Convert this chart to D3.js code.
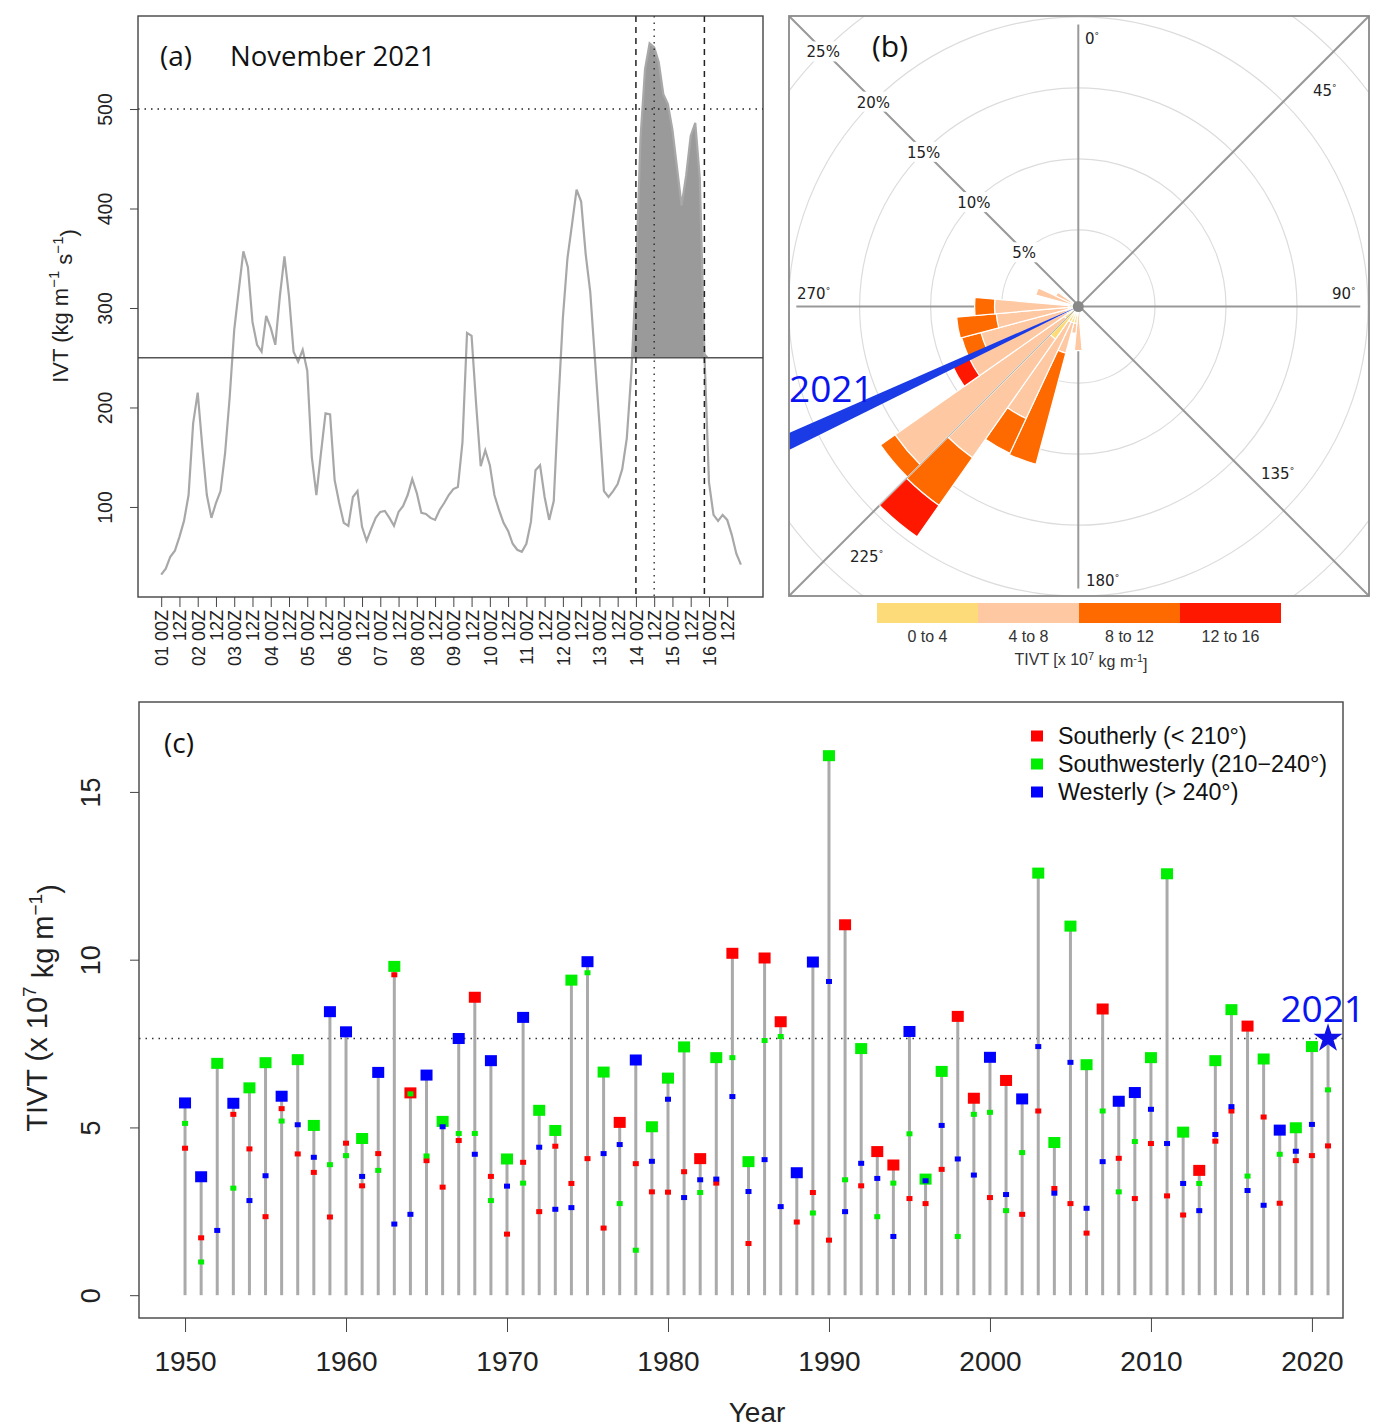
<!DOCTYPE html>
<html>
<head>
<meta charset="utf-8">
<script src="https://cdn.jsdelivr.net/npm/d3@7"></script>
<style>
  body { margin: 0; background: #fff; }
  text { font-family: "Liberation Sans", Arial, sans-serif; }
</style>
</head>
<body>
<svg id="chart" width="1378" height="1428"></svg>
<script>
// ---------- panel (a): IVT, 3-hourly, 01 00Z - 16 21Z November 2021 ----------
let ivt = [
  32, 38, 50, 56, 70, 86, 112, 184, 215, 161,
  112, 89, 104, 116, 154, 210, 278, 318, 357, 341,
  286, 263, 256, 292, 280, 263, 312, 352, 312, 256,
  246, 258, 237, 150, 112, 154, 194, 193, 127, 104,
  84, 81, 110, 116, 80, 66, 78, 89, 95, 96,
  89, 81, 95, 101, 112, 128, 114, 94, 93, 89,
  87, 97, 104, 112, 118, 120, 165, 275, 272, 203,
  141, 157, 142, 112, 97, 84, 76, 63, 57, 55,
  63, 85, 137, 142, 110, 87, 106, 203, 290, 350,
  384, 419, 407, 354, 316, 250, 184, 116, 110, 116,
  123, 138, 169, 235, 330, 470, 540, 566, 562, 547,
  515, 505, 479, 441, 403, 433, 473, 486, 430, 255,
  125, 92, 86, 92, 87, 72, 53, 42
]
let days = ['01','02','03','04','05','06','07','08','09','10','11','12','13','14','15','16']
let ivtThreshold = 250
let ivtHigh = 500
let yTicksA = [100, 200, 300, 400, 500]
// event markers, in 12-hour steps from 01 00Z
let eventStart = 26
let eventMid = 27
let eventEnd = 29.75

// ---------- panel (b): TIVT rose ----------
let roseDirs   = [180, 190, 200, 210, 220, 230, 240, 250, 260, 270, 290, 300]
let freq0to4   = [0, 0.8, 0.8, 0.8, 2.4, 0.8, 0.5, 0.5, 0.3, 0.3, 0, 0]
let freq4to8   = [2.7, 0.7, 2.2, 7.5, 10.2, 14.55, 7.6, 6.2, 5.1, 5.2, 2.7, 1.35]
let freq8to12  = [0, 0, 8.1, 2.7, 4.1, 1.25, 0, 1.4, 2.8, 1.4, 0, 0]
let freq12to16 = [0, 0, 0, 0, 2.7, 0, 1.3, 0, 0, 0, 0, 0]
let roseClasses = ['0 to 4', '4 to 8', '8 to 12', '12 to 16']
let roseColors = ['#fedb79', '#fdc8a2', '#ff6a00', '#ff1800']
let ringPcts = [5, 10, 15, 20, 25]
let compassLabels = ['0', '45', '90', '135', '180', '225', '270']
let dir2021 = 245

// ---------- panel (c): annual max TIVT by direction ----------
let years = d3.range(1950, 2022)
let southerly = [
  4.38, 1.71, null, 5.39, 4.36, 2.34, 5.56, 4.21, 3.66, 2.33,
  4.53, 3.26, 4.22, 9.55, 6.03, 4.01, 3.22, 4.61, 8.88, 3.54,
  1.82, 3.96, 2.49, 4.44, 3.33, 4.07, 2.00, 5.15, 3.92, 3.08,
  3.07, 3.68, 4.07, 3.34, 10.19, 1.54, 10.05, 8.15, 2.18, 3.06,
  1.64, 11.04, 3.26, 4.28, 3.88, 2.88, 2.73, 3.75, 8.31, 5.87,
  2.91, 6.40, 2.41, 5.49, 3.18, 2.73, 1.85, 8.53, 4.08, 2.88,
  4.52, 2.96, 2.39, 3.72, 4.59, 5.49, 8.02, 5.31, 2.74, 4.01,
  4.16, 4.45
]
let southwesterly = [
  5.12, 0.99, 6.91, 3.19, 6.18, 6.93, 5.19, 7.02, 5.06, 3.89,
  4.16, 4.67, 3.72, 9.80, 6.00, 4.15, 5.18, 4.82, 4.82, 2.82,
  4.06, 3.34, 5.51, 4.91, 9.39, 9.61, 6.65, 2.73, 1.34, 5.02,
  6.47, 7.40, 3.06, 7.08, 7.08, 3.98, 7.59, 7.71, null, 2.45,
  16.08, 3.44, 7.35, 2.34, 3.34, 4.81, 3.46, 6.67, 1.75, 5.39,
  5.45, 2.52, 4.25, 12.58, 4.55, 11.00, 6.87, 5.49, 3.08, 4.58,
  7.08, 12.56, 4.86, 3.33, 6.99, 8.51, 3.55, 7.04, 4.20, 4.99,
  7.41, 6.12
]
let westerly = [
  5.73, 3.53, 1.93, 5.72, 2.82, 3.56, 5.93, 5.08, 4.11, 8.45,
  7.85, 3.54, 6.64, 2.12, 2.41, 6.56, 5.02, 7.65, 4.20, 6.99,
  3.25, 8.28, 4.41, 2.56, 2.61, 9.94, 4.22, 4.49, 7.01, 3.99,
  5.84, 2.91, 3.44, 3.46, 5.92, 3.09, 4.04, 2.64, 3.65, 9.93,
  9.35, 2.49, 3.93, 3.48, 1.75, 7.86, 3.41, 5.06, 4.06, 3.58,
  7.09, 3.00, 5.85, 7.41, 3.04, 6.94, 2.59, 3.98, 5.78, 6.04,
  5.54, 4.52, 3.33, 2.52, 4.79, 5.62, 3.12, 2.68, 4.92, 4.29,
  5.09, 7.65
]
let dirNames = ['Southerly (< 210\u00B0)', 'Southwesterly (210\u2212240\u00B0)', 'Westerly (> 240\u00B0)']
let dirColors = ['#ff0000', '#00ee00', '#0000ff']
let yTicksC = [0, 5, 10, 15]
let xTicksC = [1950, 1960, 1970, 1980, 1990, 2000, 2010, 2020]

let svg = d3.select('#chart')
let defs = svg.append('defs')
defs.append('clipPath').attr('id', 'clipA').append('rect')
    .attr('x', 138).attr('y', 16).attr('width', 625).attr('height', 581)
defs.append('clipPath').attr('id', 'clipB').append('rect')
    .attr('x', 789).attr('y', 16).attr('width', 580).attr('height', 580)

// ================= panel (a) =================
let xA = d3.scaleLinear().domain([-1.27, 32.96]).range([138, 763])
let yA = d3.scaleLinear().domain([9.5, 593.5]).range([597, 16])
let gA = svg.append('g')
let plotA = gA.append('g').attr('clip-path', 'url(#clipA)')

let shade = d3.area()
    .defined((d, i) => i >= 103 && i <= 120)
    .x((d, i) => xA(i / 4))
    .y0(yA(ivtThreshold))
    .y1(d => yA(Math.max(d, ivtThreshold)))
plotA.append('path').datum(ivt).attr('d', shade).attr('fill', '#9a9a9a')

plotA.append('path').datum(ivt)
    .attr('d', d3.line().x((d, i) => xA(i / 4)).y(d => yA(d)))
    .attr('fill', 'none').attr('stroke', '#a8a8a8').attr('stroke-width', 2.2)

plotA.append('line').attr('x1', 138).attr('x2', 763)
    .attr('y1', yA(ivtThreshold)).attr('y2', yA(ivtThreshold))
    .attr('stroke', '#555').attr('stroke-width', 1.6)
plotA.append('line').attr('x1', 138).attr('x2', 763)
    .attr('y1', yA(ivtHigh)).attr('y2', yA(ivtHigh))
    .attr('stroke', '#222').attr('stroke-width', 1.3).attr('stroke-dasharray', '1.5,5')

;[eventStart, eventEnd].forEach(t => {
  plotA.append('line').attr('x1', xA(t)).attr('x2', xA(t)).attr('y1', 16).attr('y2', 597)
      .attr('stroke', '#222').attr('stroke-width', 1.5).attr('stroke-dasharray', '6,5')
})
plotA.append('line').attr('x1', xA(eventMid)).attr('x2', xA(eventMid)).attr('y1', 16).attr('y2', 597)
    .attr('stroke', '#222').attr('stroke-width', 1.3).attr('stroke-dasharray', '1.5,5')

gA.append('rect').attr('x', 138).attr('y', 16).attr('width', 625).attr('height', 581)
    .attr('fill', 'none').attr('stroke', '#444').attr('stroke-width', 1.4)

let axLeftA = gA.append('g').attr('transform', 'translate(138,0)')
    .call(d3.axisLeft(yA).tickValues(yTicksA).tickSize(8).tickSizeOuter(0))
axLeftA.select('.domain').remove()
axLeftA.selectAll('line').attr('stroke', '#444')
axLeftA.selectAll('text')
    .attr('x', 0).attr('dy', null).attr('text-anchor', 'middle')
    .attr('transform', 'translate(-26,0) rotate(-90)')
    .style('font-size', '19.5px').attr('fill', '#222')

let tickLabelsA = []
days.forEach(d => { tickLabelsA.push(d + ' 00Z'); tickLabelsA.push('12Z') })
let axBottomA = gA.append('g').attr('transform', 'translate(0,597)')
    .call(d3.axisBottom(xA).tickValues(d3.range(tickLabelsA.length))
        .tickFormat(i => tickLabelsA[i]).tickSize(10).tickSizeOuter(0))
axBottomA.select('.domain').remove()
axBottomA.selectAll('line').attr('stroke', '#444')
axBottomA.selectAll('text')
    .attr('x', 0).attr('y', 0).attr('dy', '0.36em').attr('text-anchor', 'end')
    .attr('transform', 'translate(0,13) rotate(-90)')
    .style('font-size', '18px').attr('fill', '#222')

let titleA = gA.append('text').attr('transform', 'translate(68,306) rotate(-90)')
    .attr('text-anchor', 'middle').style('font-size', '22px').attr('fill', '#222')
titleA.append('tspan').text('IVT (kg m')
titleA.append('tspan').text('\u22121').attr('dy', '-0.6em').style('font-size', '15px')
titleA.append('tspan').text(' s').attr('dy', '0.6em')
titleA.append('tspan').text('\u22121').attr('dy', '-0.6em').style('font-size', '15px')
titleA.append('tspan').text(')').attr('dy', '0.6em')

gA.append('text').attr('x', 160).attr('y', 66).text('(a)')
    .style('font-family', '"Open Sans", sans-serif').style('font-size', '28px').attr('fill', '#111')
gA.append('text').attr('x', 230).attr('y', 66).text('November 2021')
    .style('font-family', '"Open Sans", sans-serif').style('font-size', '27.5px').attr('fill', '#111')

// ================= panel (b) =================
let cx = 1078.3, cy = 306.5
let rB = d3.scaleLinear().domain([0, 25]).range([5.7, 360.7])
let rad = deg => deg * Math.PI / 180
let gB = svg.append('g')
let plotB = gB.append('g').attr('clip-path', 'url(#clipB)')

plotB.selectAll('circle.ring').data(ringPcts).enter().append('circle')
    .attr('cx', cx).attr('cy', cy).attr('r', d => rB(d))
    .attr('fill', 'none').attr('stroke', '#dcdcdc').attr('stroke-width', 1.2)

// axes of the rose
let spoke = 282
plotB.append('line').attr('x1', cx).attr('x2', cx).attr('y1', cy - spoke).attr('y2', cy + spoke)
    .attr('stroke', '#999').attr('stroke-width', 2)
plotB.append('line').attr('x1', cx - spoke).attr('x2', cx + spoke).attr('y1', cy).attr('y2', cy)
    .attr('stroke', '#999').attr('stroke-width', 2)
plotB.append('line').attr('x1', 789).attr('y1', 596).attr('x2', 1369).attr('y2', 16)
    .attr('stroke', '#999').attr('stroke-width', 2)
plotB.append('line').attr('x1', 789).attr('y1', 16).attr('x2', 1369).attr('y2', 596)
    .attr('stroke', '#999').attr('stroke-width', 2)

// stacked petals
let roseFreqs = [freq0to4, freq4to8, freq8to12, freq12to16]
let petals = []
roseDirs.forEach((dir, i) => {
  let cum = 0
  roseFreqs.forEach((arr, c) => {
    if (arr[i] > 0) {
      petals.push({ dir: dir, inner: cum, outer: cum + arr[i], cls: c })
      cum += arr[i]
    }
  })
})
let petalArc = d3.arc()
    .innerRadius(d => d.inner === 0 ? 0 : rB(d.inner))
    .outerRadius(d => rB(d.outer))
    .startAngle(d => rad(d.dir - 5))
    .endAngle(d => rad(d.dir + 5))
plotB.selectAll('path.petal').data(petals).enter().append('path')
    .attr('transform', `translate(${cx},${cy})`)
    .attr('d', petalArc)
    .attr('fill', d => roseColors[d.cls])
    .attr('stroke', '#fff').attr('stroke-width', 1.2)

// faint grid line showing through the gap at 225
plotB.append('line').attr('x1', cx).attr('y1', cy)
    .attr('x2', cx - Math.sin(rad(45)) * rB(19.4)).attr('y2', cy + Math.cos(rad(45)) * rB(19.4))
    .attr('stroke', '#a0a8a0').attr('stroke-width', 1)

// 2021 event direction
plotB.append('path').attr('transform', `translate(${cx},${cy})`)
    .attr('d', d3.arc().innerRadius(0).outerRadius(600)
        .startAngle(rad(dir2021 - 1.4)).endAngle(rad(dir2021 + 1.4))())
    .attr('fill', '#1a3be6')

plotB.append('circle').attr('cx', cx).attr('cy', cy).attr('r', 5.5).attr('fill', '#888')

// ring labels on the NW diagonal
ringPcts.forEach(p => {
  let px = cx - Math.SQRT1_2 * rB(p)
  let py = cy - Math.SQRT1_2 * rB(p)
  plotB.append('rect').attr('x', px - 21).attr('y', py - 10).attr('width', 42).attr('height', 20)
      .attr('fill', '#fff')
  plotB.append('text').attr('x', px).attr('y', py + 6).attr('text-anchor', 'middle')
      .text(p + '%').style('font-family', '"DejaVu Sans", Verdana, sans-serif')
      .style('font-size', '15px').attr('fill', '#222')
})

// compass labels
let compassPos = [[1085, 44], [1313, 96], [1332, 299], [1261, 479], [1086, 586], [850, 562], [797, 299]]
compassLabels.forEach((lab, i) => {
  let t = gB.append('text').attr('x', compassPos[i][0]).attr('y', compassPos[i][1])
      .style('font-family', '"DejaVu Sans", Verdana, sans-serif').style('font-size', '15px').attr('fill', '#222')
  t.append('tspan').text(lab)
  t.append('tspan').text('\u00B0').attr('dy', '-0.55em').style('font-size', '9px')
})

gB.append('rect').attr('x', 789).attr('y', 16).attr('width', 580).attr('height', 580)
    .attr('fill', 'none').attr('stroke', '#8a8a8a').attr('stroke-width', 1.8)

gB.append('text').attr('x', 872).attr('y', 57).text('(b)')
    .style('font-family', '"Open Sans", sans-serif').style('font-size', '30px').attr('fill', '#111')
gB.append('text').attr('x', 789).attr('y', 402).text('2021')
    .style('font-family', '"Open Sans", sans-serif').style('font-size', '37px').attr('fill', '#0a14f0')

// colour key
let keyX = d3.scaleBand().domain(roseClasses).range([877, 1281])
gB.selectAll('rect.key').data(roseClasses).enter().append('rect')
    .attr('x', d => keyX(d)).attr('y', 603).attr('width', keyX.bandwidth()).attr('height', 20)
    .attr('fill', (d, i) => roseColors[i])
gB.selectAll('text.key').data(roseClasses).enter().append('text')
    .attr('x', d => keyX(d) + keyX.bandwidth() / 2).attr('y', 642).attr('text-anchor', 'middle')
    .text(d => d).style('font-size', '16px').attr('fill', '#333')
let keyTitle = gB.append('text').attr('x', 1081).attr('y', 665).attr('text-anchor', 'middle')
    .style('font-size', '16px').attr('fill', '#333')
keyTitle.append('tspan').text('TIVT [x 10')
keyTitle.append('tspan').text('7').attr('dy', '-0.45em').style('font-size', '11px')
keyTitle.append('tspan').text(' kg m').attr('dy', '0.45em')
keyTitle.append('tspan').text('-1').attr('dy', '-0.45em').style('font-size', '11px')
keyTitle.append('tspan').text(']').attr('dy', '0.45em')

// ================= panel (c) =================
let xC = d3.scaleLinear().domain([1947.14, 2021.93]).range([139, 1343])
let yC = d3.scaleLinear().domain([-0.68, 17.68]).range([1318, 702])
let gC = svg.append('g')

let rows = years.map((yr, i) => {
  let vals = [southerly[i], southwesterly[i], westerly[i]]
  let best = 0
  vals.forEach((v, k) => { if (v != null && (vals[best] == null || v > vals[best])) best = k })
  return { year: yr, vals: vals, best: best, max: vals[best] }
})
let lastYear = years[years.length - 1]
let value2021 = rows[rows.length - 1].max

gC.append('line').attr('x1', 139).attr('x2', 1343)
    .attr('y1', yC(value2021)).attr('y2', yC(value2021))
    .attr('stroke', '#333').attr('stroke-width', 1.3).attr('stroke-dasharray', '1.5,5')

gC.selectAll('line.stem').data(rows).enter().append('line')
    .attr('x1', d => xC(d.year)).attr('x2', d => xC(d.year))
    .attr('y1', yC(0)).attr('y2', d => yC(d.max))
    .attr('stroke', '#aaa').attr('stroke-width', 3)

gC.selectAll('rect.big').data(rows.filter(d => d.year !== lastYear)).enter().append('rect')
    .attr('x', d => xC(d.year) - 6).attr('y', d => yC(d.max) - 5.5)
    .attr('width', 12).attr('height', 11)
    .attr('fill', d => dirColors[d.best])

let smalls = []
rows.forEach(d => {
  d.vals.forEach((v, k) => {
    if (v != null && k !== d.best) smalls.push({ year: d.year, v: v, k: k })
  })
})
gC.selectAll('rect.small').data(smalls).enter().append('rect')
    .attr('x', d => xC(d.year) - 3).attr('y', d => yC(d.v) - 2.5)
    .attr('width', 6).attr('height', 5)
    .attr('fill', d => dirColors[d.k])

gC.append('path')
    .attr('transform', `translate(${xC(lastYear)},${yC(value2021)})`)
    .attr('d', d3.symbol().type(d3.symbolStar).size(260)())
    .attr('fill', '#1010e8')
gC.append('text').attr('x', 1365).attr('y', 1022).attr('text-anchor', 'end').text('2021')
    .style('font-family', '"Open Sans", sans-serif').style('font-size', '37px').attr('fill', '#0a14f0')

gC.append('rect').attr('x', 139).attr('y', 702).attr('width', 1204).attr('height', 616)
    .attr('fill', 'none').attr('stroke', '#444').attr('stroke-width', 1.4)

let axLeftC = gC.append('g').attr('transform', 'translate(139,0)')
    .call(d3.axisLeft(yC).tickValues(yTicksC).tickSize(9).tickSizeOuter(0))
axLeftC.select('.domain').remove()
axLeftC.selectAll('line').attr('stroke', '#444')
axLeftC.selectAll('text')
    .attr('x', 0).attr('dy', null).attr('text-anchor', 'middle')
    .attr('transform', 'translate(-39,0) rotate(-90)')
    .style('font-size', '27px').attr('fill', '#222')

let axBottomC = gC.append('g').attr('transform', 'translate(0,1318)')
    .call(d3.axisBottom(xC).tickValues(xTicksC)
        .tickFormat(d3.format('d')).tickSize(14).tickSizeOuter(0))
axBottomC.select('.domain').remove()
axBottomC.selectAll('line').attr('stroke', '#444')
axBottomC.selectAll('text').attr('y', 53).attr('dy', null)
    .style('font-size', '28px').attr('fill', '#222')

gC.append('text').attr('x', 757).attr('y', 1422).attr('text-anchor', 'middle').text('Year')
    .style('font-size', '28px').attr('fill', '#222')

let titleC = gC.append('text').attr('transform', 'translate(47,1008) rotate(-90)')
    .attr('text-anchor', 'middle').style('font-size', '29px').attr('fill', '#222')
titleC.append('tspan').text('TIVT (x 10')
titleC.append('tspan').text('7').attr('dy', '-0.6em').style('font-size', '19px')
titleC.append('tspan').text(' kg m').attr('dy', '0.6em')
titleC.append('tspan').text('\u22121').attr('dy', '-0.6em').style('font-size', '19px')
titleC.append('tspan').text(')').attr('dy', '0.6em')

gC.append('text').attr('x', 164).attr('y', 753).text('(c)')
    .style('font-family', '"Open Sans", sans-serif').style('font-size', '28px').attr('fill', '#111')

// legend
dirNames.forEach((name, i) => {
  let ly = 736 + i * 28
  gC.append('rect').attr('x', 1031).attr('y', ly - 5.5).attr('width', 12).attr('height', 11)
      .attr('fill', dirColors[i])
  gC.append('text').attr('x', 1058).attr('y', ly + 8).text(name)
      .style('font-size', '23.3px').attr('fill', '#111')
})
</script>
</body>
</html>
